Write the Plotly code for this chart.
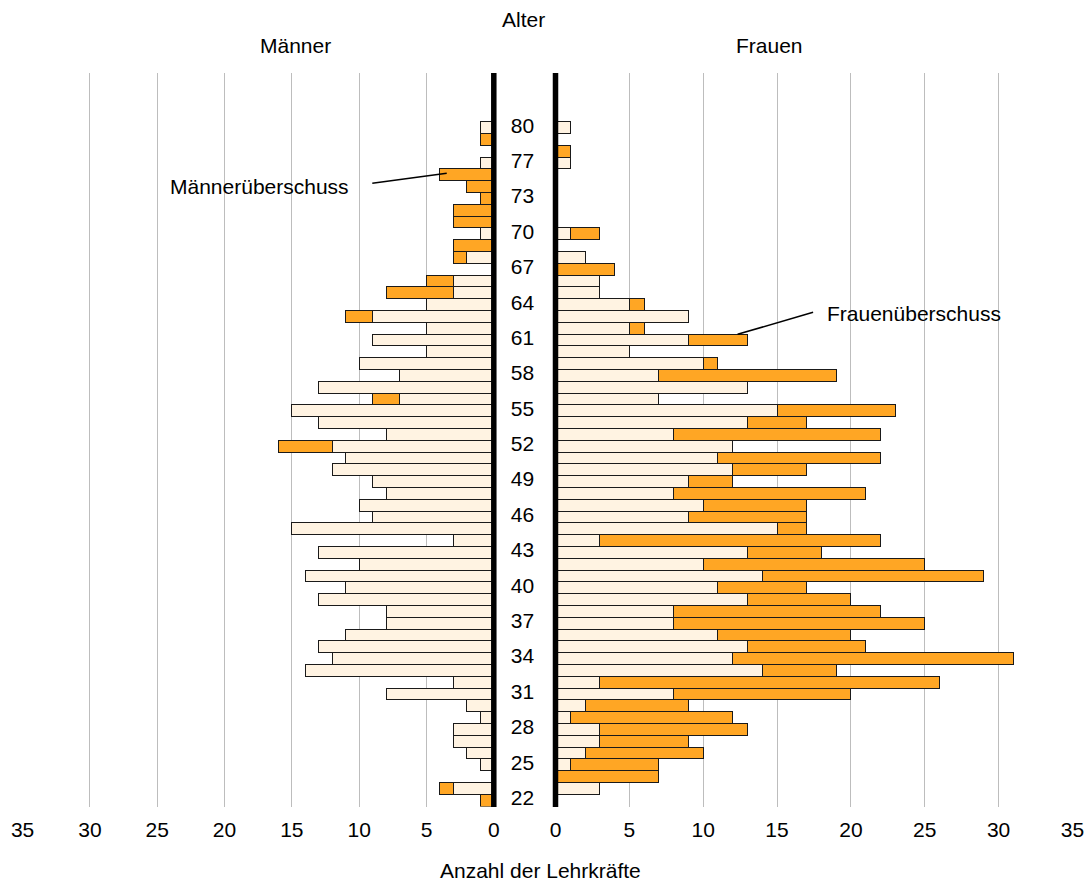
import plotly.graph_objects as go

# ---- data ----
ages = ["22", "23", "24", "25", "26", "27", "28", "29", "30", "31",
        "32", "33", "34", "35", "36", "37", "38", "39", "40", "41",
        "42", "43", "44", "45", "46", "47", "48", "49", "50", "51",
        "52", "53", "54", "55", "56", "57", "58", "59", "60", "61",
        "62", "63", "64", "65", "66", "67", "68", "69", "70", "71",
        "72", "73", "75", "76", "77", "78", "79", "80"]
men = [1, 4, 0, 1, 2, 3, 3, 1, 2, 8,
       3, 14, 12, 13, 11, 8, 8, 13, 11, 14,
       10, 13, 3, 15, 9, 10, 8, 9, 12, 11,
       16, 8, 13, 15, 9, 13, 7, 10, 5, 9,
       5, 11, 5, 8, 5, 0, 3, 3, 1, 3,
       3, 1, 2, 4, 1, 0, 1, 1]
women = [0, 3, 7, 7, 10, 9, 13, 12, 9, 20,
         26, 19, 31, 21, 20, 25, 22, 20, 17, 29,
         25, 18, 22, 17, 17, 17, 21, 12, 17, 22,
         12, 22, 17, 23, 7, 13, 19, 11, 5, 13,
         6, 9, 6, 3, 3, 4, 2, 0, 3, 0,
         0, 0, 0, 0, 1, 1, 0, 1]
age_ticks = ["22", "25", "28", "31", "34", "37", "40", "43", "46", "49",
             "52", "55", "58", "61", "64", "67", "70", "73", "77", "80"]
x_ticks = [0, 5, 10, 15, 20, 25, 30, 35]

common = [min(m, w) for m, w in zip(men, women)]
men_surplus = [(m - w) if m > w else None for m, w in zip(men, women)]
women_surplus = [(w - m) if w > m else None for m, w in zip(men, women)]
common_v = [c if c > 0 else None for c in common]

LIGHT = "#FFF3E2"
ORANGE = "#FFA624"
EDGE = "#1a1a1a"
FONT = "Liberation Sans, Arial, sans-serif"
W, H = 1088, 883


def px(x):
    return x / W


def py(y):
    return 1 - y / H


fig = go.Figure()
bar_common = dict(orientation="h", marker=dict(color=LIGHT, line=dict(color=EDGE, width=1)),
                  hoverinfo="x+y", showlegend=False)
bar_surplus = dict(orientation="h", marker=dict(color=ORANGE, line=dict(color=EDGE, width=1)),
                   hoverinfo="x+y", showlegend=False)

fig.add_trace(go.Bar(y=ages, x=common_v, xaxis="x", yaxis="y", name="Männer", **bar_common))
fig.add_trace(go.Bar(y=ages, x=men_surplus, xaxis="x", yaxis="y", name="Männerüberschuss", **bar_surplus))
fig.add_trace(go.Bar(y=ages, x=common_v, xaxis="x2", yaxis="y2", name="Frauen", **bar_common))
fig.add_trace(go.Bar(y=ages, x=women_surplus, xaxis="x2", yaxis="y2", name="Frauenüberschuss", **bar_surplus))

top_px, bot_px = 73.0, 806.5
row_h = (806.5 - 122.3) / 58
y_top = 57.5 + (122.3 - top_px) / row_h

xcommon = dict(showgrid=True, gridcolor="#BDBDBD", gridwidth=1, zeroline=False, showline=False,
               tickmode="array", tickvals=x_ticks, ticks="", ticklabelstandoff=8,
               tickfont=dict(family=FONT, size=21, color="#000"), fixedrange=True,
               automargin=False)

fig.update_layout(
    width=W, height=H, autosize=False,
    margin=dict(l=0, r=0, t=0, b=0, pad=0, autoexpand=False),
    paper_bgcolor="white", plot_bgcolor="white",
    barmode="stack", bargap=0,
    font=dict(family=FONT, size=21, color="#000"),
    xaxis=dict(domain=[px(22.6), px(493.8)], range=[35, 0], anchor="y", **xcommon),
    xaxis2=dict(domain=[px(555.5), px(1072.4)], range=[0, 35], anchor="y2", **xcommon),
    yaxis=dict(domain=[py(bot_px), py(top_px)], range=[-0.5, y_top], type="category",
               categoryorder="array", categoryarray=ages, anchor="x", side="right",
               showgrid=False, zeroline=False, showline=False, ticks="",
               tickmode="array", tickvals=age_ticks, ticklabelstandoff=16, ticklabelshift=-3,
               tickfont=dict(family=FONT, size=21, color="#000"), fixedrange=True,
               automargin=False),
    yaxis2=dict(domain=[py(bot_px), py(top_px)], range=[-0.5, y_top], type="category",
                categoryorder="array", categoryarray=ages, anchor="x2", matches="y",
                showgrid=False, zeroline=False, showline=False, showticklabels=False, ticks="",
                fixedrange=True, automargin=False),
    showlegend=False,
)

# thick zero axes of both halves
for xc in (493.8, 555.5):
    fig.add_shape(type="line", xref="paper", yref="paper", x0=px(xc), x1=px(xc),
                  y0=py(807), y1=py(73), line=dict(color="#000", width=5.5), layer="above")

# leader lines
fig.add_shape(type="line", xref="paper", yref="paper", x0=px(372.3), y0=py(183.3),
              x1=px(446.7), y1=py(173.3), line=dict(color="#000", width=1.5), layer="above")
fig.add_shape(type="line", xref="paper", yref="paper", x0=px(737.6), y0=py(334.3),
              x1=px(813.1), y1=py(312.3), line=dict(color="#000", width=1.5), layer="above")

texts = [
    ("Alter", 523, 20, "center"),
    ("Männer", 295, 45, "center"),
    ("Frauen", 769, 45, "center"),
    ("Anzahl der Lehrkräfte", 540, 870, "center"),
    ("Männerüberschuss", 351, 186, "right"),
    ("Frauenüberschuss", 825, 314, "left"),
]
for t, x, y, anc in texts:
    fig.add_annotation(text=t, xref="paper", yref="paper", x=px(x), y=py(y),
                       xanchor=anc, yanchor="middle", showarrow=False,
                       font=dict(family=FONT, size=21, color="#000"))

fig.write_html(
    "out.html",
    config={"responsive": False, "displayModeBar": False},
    post_script="document.documentElement.style.margin='0';document.documentElement.style.padding='0';"
                "document.body.style.margin='0';document.body.style.padding='0';"
                "document.documentElement.style.overflow='hidden';document.body.style.overflow='hidden';",
)
